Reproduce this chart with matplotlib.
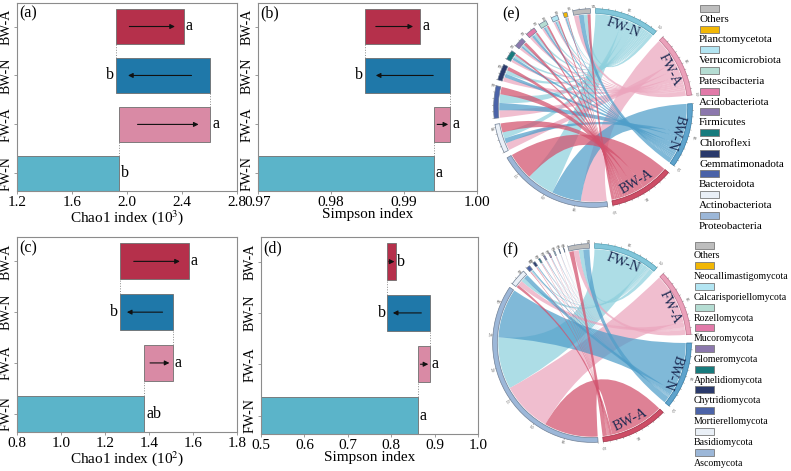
import numpy as np
import matplotlib
matplotlib.use("Agg")
import matplotlib.pyplot as plt
from matplotlib.path import Path
from matplotlib.patches import PathPatch, Wedge, Rectangle

plt.rcParams["font.family"] = ["Liberation Serif", "DejaVu Serif"]
plt.rcParams["mathtext.fontset"] = "stix"

# ---- alpha diversity (waterfall bars) ----
groups = ["FW-N", "FW-A", "BW-N", "BW-A"]
chao1_bac = [1.944, 2.607, 1.918, 2.413]        # x 10^3
simpson_bac = [0.9941, 0.99635, 0.98461, 0.99224]
chao1_fun = [1.3785, 1.51, 1.268, 1.581]        # x 10^2
simpson_fun = [0.862, 0.889, 0.791, 0.810]
letters_a = ["b", "a", "b", "a"]
letters_b = ["a", "a", "b", "a"]
letters_c = ["ab", "a", "b", "a"]
letters_d = ["a", "a", "b", "b"]

# ---- chord diagrams: relative abundance per group (legend order) ----
bac_names = ["Others", "Planctomycetota", "Verrucomicrobiota", "Patescibacteria",
             "Acidobacteriota", "Firmicutes", "Chloroflexi", "Gemmatimonadota",
             "Bacteroidota", "Actinobacteriota", "Proteobacteria"]
bac_fw_n = [0.06, 0.02, 0.03, 0.03, 0.04, 0.03, 0.04, 0.06, 0.14, 0.10, 0.45]
bac_fw_a = [0.08, 0.01, 0.03, 0.03, 0.04, 0.04, 0.04, 0.07, 0.12, 0.12, 0.42]
bac_bw_n = [0.08, 0.02, 0.02, 0.03, 0.04, 0.03, 0.04, 0.06, 0.12, 0.08, 0.48]
bac_bw_a = [0.05, 0.01, 0.02, 0.03, 0.03, 0.05, 0.03, 0.06, 0.12, 0.15, 0.45]

fun_names = ["Others", "Neocallimastigomycota", "Calcarisporiellomycota", "Rozellomycota",
             "Mucoromycota", "Glomeromycota", "Aphelidiomycota", "Chytridiomycota",
             "Mortierellomycota", "Basidiomycota", "Ascomycota"]
fun_fw_n = [0.07, 0.001, 0.002, 0.003, 0.004, 0.005, 0.005, 0.010, 0.020, 0.06, 0.82]
fun_fw_a = [0.08, 0.001, 0.002, 0.004, 0.005, 0.005, 0.005, 0.008, 0.010, 0.08, 0.80]
fun_bw_n = [0.10, 0.001, 0.003, 0.004, 0.005, 0.006, 0.006, 0.010, 0.015, 0.07, 0.78]
fun_bw_a = [0.07, 0.001, 0.002, 0.004, 0.004, 0.005, 0.006, 0.008, 0.010, 0.04, 0.85]

bar_colors = ["#5bb4c9", "#d98aa5", "#1f78a9", "#b5304b"]
ring_colors = ["#82c6da", "#eaa1ba", "#5ea3cc", "#cd4d66"]
ring_edges = ["#4f9fb5", "#c0708c", "#2f7aa5", "#a02e46"]
link_colors = ["#8ed0dd", "#eba5bd", "#4f9ec9", "#d2506c"]
phyla_colors = ["#bdbdbd", "#f2b705", "#b3e5f2", "#b5ddd3", "#e27aa9", "#8c78ad",
                "#177b7d", "#2a3a6c", "#4b63a8", "#eaf0f7", "#9cb7d8"]


def waterfall(ax, vals, letters, xmin, xmax, ticks, fmt, xlabel, tag):
    h = 0.71
    starts = [xmin] + vals[:-1]
    span = xmax - xmin
    for i, (s, e) in enumerate(zip(starts, vals)):
        ax.barh(i, e - s, left=s, height=h, color=bar_colors[i],
                edgecolor="#6e6e6e", linewidth=0.6, zorder=2)
        if i > 0:
            ax.annotate("", xy=(s + 0.87 * (e - s), i), xytext=(s + 0.2 * (e - s), i),
                        arrowprops=dict(arrowstyle="-|>", color="#111111", lw=0.8,
                                        mutation_scale=7, shrinkA=0, shrinkB=0),
                        zorder=3)
        if e >= s:
            ax.text(e + 0.008 * span, i, letters[i], ha="left", va="center", fontsize=11.5)
        else:
            ax.text(e - 0.008 * span, i, letters[i], ha="right", va="center", fontsize=11.5)
        if i < len(vals) - 1:
            ax.plot([e, e], [i + h / 2, i + 1 - h / 2], ls=":", color="#8a8a8a", lw=0.7, zorder=1)
    ax.set_xlim(xmin, xmax)
    ax.set_ylim(-0.36, 3.48)
    ax.set_yticks(range(len(groups)))
    ax.set_yticklabels(groups, rotation=90, va="center", fontsize=10)
    ax.set_xticks(ticks)
    ax.set_xticklabels([fmt.format(t) for t in ticks], fontsize=11)
    ax.set_xlabel(xlabel, fontsize=11, labelpad=-0.5)
    ax.tick_params(axis="x", length=2, width=0.6, color="#8c8c8c", pad=1.5)
    ax.tick_params(axis="y", length=2, width=0.6, color="#8c8c8c", pad=1)
    for sp in ax.spines.values():
        sp.set_color("#8c8c8c")
        sp.set_linewidth(0.8)
    ax.text(0.012, 0.985, tag, transform=ax.transAxes, ha="left", va="top", fontsize=11.5)


def arc_pts(r, a1, a2, n=40):
    t = np.radians(np.linspace(a1, a2, n))
    return np.column_stack([r * np.cos(t), r * np.sin(t)])


def ribbon(ax, a1, a2, b1, b2, color, r=1.0):
    p1 = arc_pts(r, a1, a2)
    p2 = arc_pts(r, b1, b2)
    verts = list(p1)
    codes = [Path.MOVETO] + [Path.LINETO] * (len(p1) - 1)
    verts += [(0, 0), tuple(p2[0])]
    codes += [Path.CURVE3, Path.CURVE3]
    verts += list(p2[1:])
    codes += [Path.LINETO] * (len(p2) - 1)
    verts += [(0, 0), tuple(p1[0])]
    codes += [Path.CURVE3, Path.CURVE3]
    ax.add_patch(PathPatch(Path(verts, codes), facecolor=color, edgecolor="none",
                           alpha=0.72, zorder=1))


def chord(ax, rows, names, link_order, phy_gap):
    mat = np.array(rows)                     # groups x phyla (legend order)
    order = list(range(len(names)))[::-1]    # Proteobacteria first, clockwise
    g_tot = mat.sum(axis=1)
    p_tot = mat.sum(axis=0)
    sizes = list(g_tot) + [p_tot[j] for j in order]
    gaps = [5, 5, 5, 3] + [phy_gap] * (len(order) - 1) + [3]
    unit = (360 - sum(gaps)) / sum(sizes)
    starts = []
    ang = 90 - 1.5
    for s, g in zip(sizes, gaps):
        starts.append(ang)
        ang -= s * unit + g

    r_in, r_out = 1.01, 1.06
    for k, (st, s) in enumerate(zip(starts, sizes)):
        end = st - s * unit
        if k < 4:
            fc, ec = ring_colors[k], ring_edges[k]
        else:
            fc, ec = phyla_colors[order[k - 4]], "#6f7f95"
        ax.add_patch(Wedge((0, 0), r_out, end, st, width=r_out - r_in,
                           facecolor=fc, edgecolor=ec, linewidth=0.5, zorder=3))
        # ticks along the sector
        v = 0.0
        while v <= s + 1e-9:
            a = np.radians(st - v * unit)
            ax.plot([r_out * np.cos(a), (r_out + 0.015) * np.cos(a)],
                    [r_out * np.sin(a), (r_out + 0.015) * np.sin(a)],
                    color="#777777", lw=0.3, zorder=3)
            v += 0.1 if s < 1.5 else 0.5
        labs = list(np.arange(0.5, s + 1e-9, 0.5)) if s >= 0.5 else [round(s, 1)]
        for lv in labs:
            a = st - lv * unit
            rot = a - 90 if -90 <= a <= 90 or a > 270 else a + 90
            ax.text(1.11 * np.cos(np.radians(a)), 1.11 * np.sin(np.radians(a)),
                    "{:.1f}".format(lv), fontsize=2.6, ha="center", va="center",
                    rotation=rot, color="#333333", clip_on=False)
        if k < 4:
            mid = (st + end) / 2
            rot = mid - 90 if mid > -30 else mid + 90
            ax.text(0.915 * np.cos(np.radians(mid)), 0.915 * np.sin(np.radians(mid)),
                    groups[k], fontsize=10, ha="center", va="center", rotation=rot,
                    color="#1a2850", zorder=4)

    # links: group sectors allocate phyla in clockwise order
    g_pos = {}
    for gi in range(4):
        cur = starts[gi]
        for j in order:
            w = mat[gi, j] * unit
            g_pos[(gi, j)] = (cur, cur - w)
            cur -= w
    p_pos = {}
    for k, j in enumerate(order):
        cur = starts[4 + k]
        for gn in link_order:
            gi = groups.index(gn)
            w = mat[gi, j] * unit
            p_pos[(gi, j)] = (cur, cur - w)
            cur -= w
    for j in order:
        for gi in range(4):
            if mat[gi, j] <= 0:
                continue
            a1, a2 = g_pos[(gi, j)]
            b1, b2 = p_pos[(gi, j)]
            ribbon(ax, a1, a2, b1, b2, link_colors[gi])

    ax.set_xlim(-1.12, 1.12)
    ax.set_ylim(-1.12, 1.12)
    ax.set_aspect("equal")
    ax.axis("off")


W, H = 791, 471
fig = plt.figure(figsize=(W / 100, H / 100), dpi=100)


def px_axes(x0, y0, x1, y1):
    return fig.add_axes([x0 / W, 1 - y1 / H, (x1 - x0) / W, (y1 - y0) / H])


ax_a = px_axes(17, 3, 237, 191)
ax_b = px_axes(258, 3, 477, 191)
ax_c = px_axes(17, 237, 237, 432)
ax_d = px_axes(261, 237, 478, 434)

waterfall(ax_a, chao1_bac, letters_a, 1.2, 2.8, [1.2, 1.6, 2.0, 2.4, 2.8], "{:.1f}",
          "Chao1 index (10$^{3}$)", "(a)")
waterfall(ax_b, simpson_bac, letters_b, 0.97, 1.00, [0.97, 0.98, 0.99, 1.00], "{:.2f}",
          "Simpson index", "(b)")
waterfall(ax_c, chao1_fun, letters_c, 0.8, 1.8, [0.8, 1.0, 1.2, 1.4, 1.6, 1.8], "{:.1f}",
          "Chao1 index (10$^{2}$)", "(c)")
waterfall(ax_d, simpson_fun, letters_d, 0.5, 1.0, [0.5, 0.6, 0.7, 0.8, 0.9, 1.0], "{:.1f}",
          "Simpson index", "(d)")

ax_e = px_axes(488, 3, 698, 213)
ax_f = px_axes(487, 238, 697, 448)
chord(ax_e, [bac_fw_n, bac_fw_a, bac_bw_n, bac_bw_a], bac_names,
      ["FW-A", "BW-N", "FW-N", "BW-A"], 3.5)
chord(ax_f, [fun_fw_n, fun_fw_a, fun_bw_n, fun_bw_a], fun_names,
      ["BW-A", "FW-A", "FW-N", "BW-N"], 2.5)
fig.text(502 / W, 1 - 14 / H, "(e)", fontsize=11.5, ha="left", va="center")
fig.text(502 / W, 1 - 250 / H, "(f)", fontsize=11.5, ha="left", va="center")


def legend(names, x_patch, y0, fs):
    for i, name in enumerate(names):
        yp = y0 + i * 20.7
        fig.add_artist(Rectangle((x_patch / W, 1 - (yp + 3.5) / H), 19 / W, 7 / H,
                                 transform=fig.transFigure, facecolor=phyla_colors[i],
                                 edgecolor="#7a7a7a", linewidth=0.6))
        fig.text((x_patch - 1) / W, 1 - (yp + 11) / H, name, fontsize=fs,
                 ha="left", va="center")


legend(bac_names, 700, 8.3, 8)
legend(fun_names, 695, 245, 7.1)

fig.savefig("out.png", dpi=100)
